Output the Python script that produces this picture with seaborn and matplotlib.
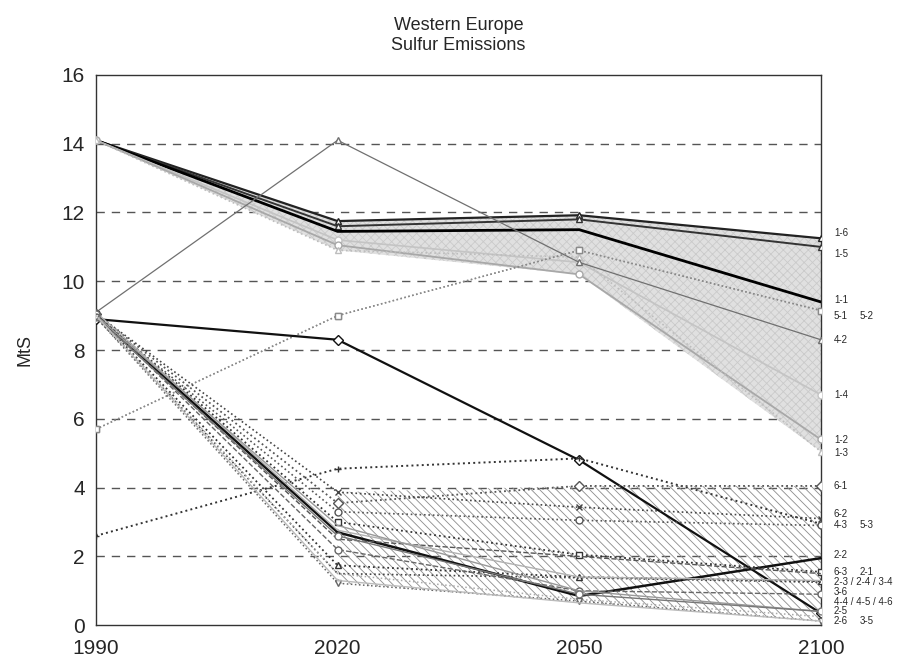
import pandas as pd
import matplotlib.pyplot as plt
import seaborn as sns

years = ["1990", "2020", "2050", "2100"]

# scenario values (MtS) at 1990, 2020, 2050, 2100
s_1_6 = [14.1, 11.75, 11.92, 11.25]
s_1_5 = [14.1, 11.6, 11.8, 11.0]
s_1_1 = [14.1, 11.45, 11.5, 9.4]
s_1_4 = [14.1, 11.2, 10.55, 6.7]
s_1_2 = [14.1, 11.05, 10.2, 5.4]
s_1_3 = [14.1, 10.9, 10.7, 5.05]
s_4_2 = [9.1, 14.1, 10.55, 8.3]
s_5_1 = [5.7, 9.0, 10.9, 9.15]
s_5_2 = [5.7, 9.0, 10.9, 9.15]
s_4_4 = [8.9, 8.3, 4.8, 0.35]
s_5_3 = [2.6, 4.55, 4.85, 2.95]
s_6_1 = [9.05, 3.55, 4.05, 4.05]
s_6_2 = [9.05, 3.87, 3.43, 3.1]
s_4_3 = [9.0, 3.3, 3.05, 2.9]
s_2_2 = [9.0, 2.7, 0.85, 1.95]
s_6_3 = [9.05, 3.0, 2.05, 1.55]
s_2_1 = [9.0, 2.5, 2.0, 1.5]
s_2_3 = [9.0, 1.74, 1.4, 1.28]
s_2_4 = [8.95, 1.5, 1.38, 1.25]
s_3_4 = [9.1, 2.76, 1.4, 1.3]
s_3_6 = [9.05, 2.2, 1.0, 0.9]
s_4_5 = [9.0, 2.9, 1.0, 0.4]
s_4_6 = [8.95, 2.6, 0.9, 0.4]
s_2_5 = [9.0, 1.5, 0.75, 0.25]
s_2_6 = [8.95, 1.22, 0.7, 0.12]
s_3_5 = [9.0, 1.3, 0.65, 0.12]

series = {
    "1-6": s_1_6, "1-5": s_1_5, "1-1": s_1_1, "1-4": s_1_4, "1-2": s_1_2,
    "1-3": s_1_3, "4-2": s_4_2, "5-1": s_5_1, "5-2": s_5_2, "4-4": s_4_4,
    "5-3": s_5_3, "6-1": s_6_1, "6-2": s_6_2, "4-3": s_4_3, "2-2": s_2_2,
    "6-3": s_6_3, "2-1": s_2_1, "2-3": s_2_3, "2-4": s_2_4, "3-4": s_3_4,
    "3-6": s_3_6, "4-5": s_4_5, "4-6": s_4_6, "2-5": s_2_5, "2-6": s_2_6,
    "3-5": s_3_5,
}

band_high = ["1-6", "1-5", "1-1", "1-4", "1-2", "1-3"]
band_low = ["6-1", "6-2", "4-3", "2-2", "6-3", "2-1", "2-3", "2-4", "3-4",
            "3-6", "4-5", "4-6", "2-5", "2-6", "3-5"]

# right-hand labels: (first text, second text, y position)
end_labels = [
    ("1-6", "", 11.4), ("1-5", "", 10.8), ("1-1", "", 9.45),
    ("5-1", "5-2", 9.0), ("4-2", "", 8.28), ("1-4", "", 6.69),
    ("1-2", "", 5.38), ("1-3", "", 5.0), ("6-1", "", 4.04),
    ("6-2", "", 3.22), ("4-3", "5-3", 2.9), ("2-2", "", 2.03),
    ("6-3", "2-1", 1.56), ("2-3 / 2-4 / 3-4", "", 1.26), ("3-6", "", 0.96),
    ("4-4 / 4-5 / 4-6", "", 0.68), ("2-5", "", 0.41), ("2-6", "3-5", 0.13),
]

# line styles: color, linestyle, linewidth, marker
styles = {
    "1-6": ("#222222", "-", 1.6, "^"),
    "1-5": ("#333333", "-", 1.4, "^"),
    "1-1": ("#000000", "-", 2.0, None),
    "1-4": ("#c4c4c4", "-", 1.2, "o"),
    "1-2": ("#a8a8a8", "-", 1.3, "o"),
    "1-3": ("#bdbdbd", ":", 1.2, "^"),
    "4-2": ("#707070", "-", 0.9, "^"),
    "5-1": ("#8a8a8a", ":", 1.1, "s"),
    "5-2": ("#8a8a8a", ":", 1.1, "s"),
    "4-4": ("#111111", "-", 1.6, "D"),
    "5-3": ("#333333", ":", 1.4, "+"),
    "6-1": ("#555555", ":", 1.3, "D"),
    "6-2": ("#444444", ":", 1.2, "x"),
    "4-3": ("#555555", ":", 1.2, "o"),
    "2-2": ("#111111", "-", 1.8, "_"),
    "6-3": ("#333333", ":", 1.3, "s"),
    "2-1": ("#555555", "--", 1.0, None),
    "2-3": ("#333333", ":", 1.3, "^"),
    "2-4": ("#444444", ":", 1.2, None),
    "3-4": ("#b0b0b0", "-", 1.0, None),
    "3-6": ("#666666", "--", 1.0, "o"),
    "4-5": ("#999999", "-", 1.0, None),
    "4-6": ("#777777", "-", 1.0, "o"),
    "2-5": ("#aaaaaa", ":", 1.1, None),
    "2-6": ("#666666", ":", 1.1, "v"),
    "3-5": ("#bbbbbb", "-", 1.0, None),
}

rows = []
for name, vals in series.items():
    for i, v in enumerate(vals):
        rows.append({"scenario": name, "pos": i, "value": v})
df = pd.DataFrame(rows)
wide = df.pivot(index="pos", columns="scenario", values="value")

sns.set_style("white")
plt.rcParams["font.family"] = ["Liberation Sans", "DejaVu Sans"]
plt.rcParams["hatch.linewidth"] = 0.6
fig = plt.figure(figsize=(9.06, 6.63), dpi=100)
ax = fig.add_axes([0.106, 0.057, 0.8, 0.83])

# shaded bands from the scenario envelopes
hi = wide[band_high]
ax.fill_between(hi.index, hi.min(axis=1), hi.max(axis=1),
                facecolor="#e0e0e0", edgecolor="#cacaca", hatch="xxxx",
                linewidth=0, zorder=1)
lo = wide.loc[1:, band_low]
ax.fill_between(lo.index, lo.min(axis=1), lo.max(axis=1),
                facecolor="none", edgecolor="#8c8c8c", hatch="\\\\\\\\",
                linewidth=0, zorder=1)

for name in series:
    c, ls, lw, mk = styles[name]
    sns.lineplot(data=df[df["scenario"] == name], x="pos", y="value", ax=ax,
                 color=c, linestyle=ls, linewidth=lw, marker=mk,
                 markersize=5, markerfacecolor="white", markeredgecolor=c,
                 markeredgewidth=1.0, zorder=3)

ax.set_xlim(0, 3)
ax.set_ylim(0, 16)
ax.set_xticks(range(len(years)))
ax.set_xticklabels(years, fontsize=15)
ax.set_yticks(range(0, 17, 2))
ax.tick_params(axis="y", labelsize=15, length=0, pad=8)
ax.tick_params(axis="x", direction="in", length=8, color="#333333", pad=10)
for y in range(2, 16, 2):
    ax.axhline(y, color="#555555", linestyle=(0, (6, 5)), linewidth=1.0, zorder=0)
for sp in ax.spines.values():
    sp.set_color("#333333")
    sp.set_linewidth(1.0)

ax.set_xlabel("")
ax.set_ylabel("MtS", fontsize=13, labelpad=20)
ax.set_title("Western Europe\nSulfur Emissions", fontsize=13, pad=18)

trans = ax.get_yaxis_transform()
for first, second, y in end_labels:
    ax.text(1.018, y, first, transform=trans, fontsize=7, va="center",
            ha="left", clip_on=False)
    if second:
        ax.text(1.053, y, second, transform=trans, fontsize=7, va="center",
                ha="left", clip_on=False)

fig.savefig("out.png", dpi=100)
